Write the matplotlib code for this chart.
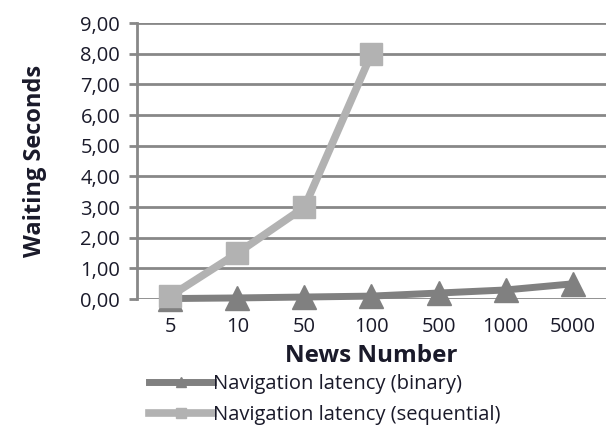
import matplotlib
matplotlib.use("Agg")
import matplotlib.pyplot as plt
from matplotlib.ticker import FuncFormatter, MultipleLocator

categories = ["5", "10", "50", "100", "500", "1000", "5000"]
binary = [0.02, 0.04, 0.07, 0.10, 0.20, 0.30, 0.50]
sequential = [0.10, 1.50, 3.00, 8.00]

plt.rcParams["font.family"] = ["Open Sans", "DejaVu Sans"]
text_color = "#1a1a2a"
grid_color = "#888888"

fig = plt.figure(figsize=(6.08, 4.28), dpi=100)
ax = fig.add_axes([0.225, 0.301, 0.772, 0.645])

x = list(range(len(categories)))
l1, = ax.plot(x, binary, color="#808080", lw=5, marker="^", ms=17,
              label="Navigation latency (binary)", zorder=3, clip_on=False)
l2, = ax.plot(x[:len(sequential)], sequential, color="#b2b2b2", lw=5.5, marker="s",
              ms=16, label="Navigation latency (sequential)", zorder=4, clip_on=False)

ax.set_xlim(-0.5, len(categories) - 0.5)
ax.set_ylim(0, 9)
ax.yaxis.set_major_locator(MultipleLocator(1))
ax.yaxis.set_major_formatter(FuncFormatter(lambda v, p: f"{v:.2f}".replace(".", ",")))
ax.set_xticks(x)
ax.set_xticklabels(categories)

ax.grid(axis="y", color=grid_color, lw=2)
ax.set_axisbelow(True)
for s in ["top", "right", "bottom"]:
    ax.spines[s].set_visible(False)
ax.spines["left"].set_color(grid_color)
ax.spines["left"].set_linewidth(2)
ax.tick_params(axis="y", length=6, width=2, color=grid_color, labelsize=14.5,
               labelcolor=text_color, pad=6)
ax.tick_params(axis="x", length=0, labelsize=14.5, labelcolor=text_color, pad=13)

ax.set_ylabel("Waiting Seconds", fontsize=17, fontweight="bold", color=text_color,
              labelpad=24)
ax.set_xlabel("News Number", fontsize=17.5, fontweight="bold", color=text_color,
              labelpad=5)

fig.legend(handles=[l1, l2], loc="lower left", bbox_to_anchor=(0.215, -0.036),
           frameon=False, fontsize=14.5, handlelength=3.2, handletextpad=0.0,
           labelspacing=0.55, labelcolor=text_color, markerscale=0.45)

fig.savefig("out.png", dpi=100)
